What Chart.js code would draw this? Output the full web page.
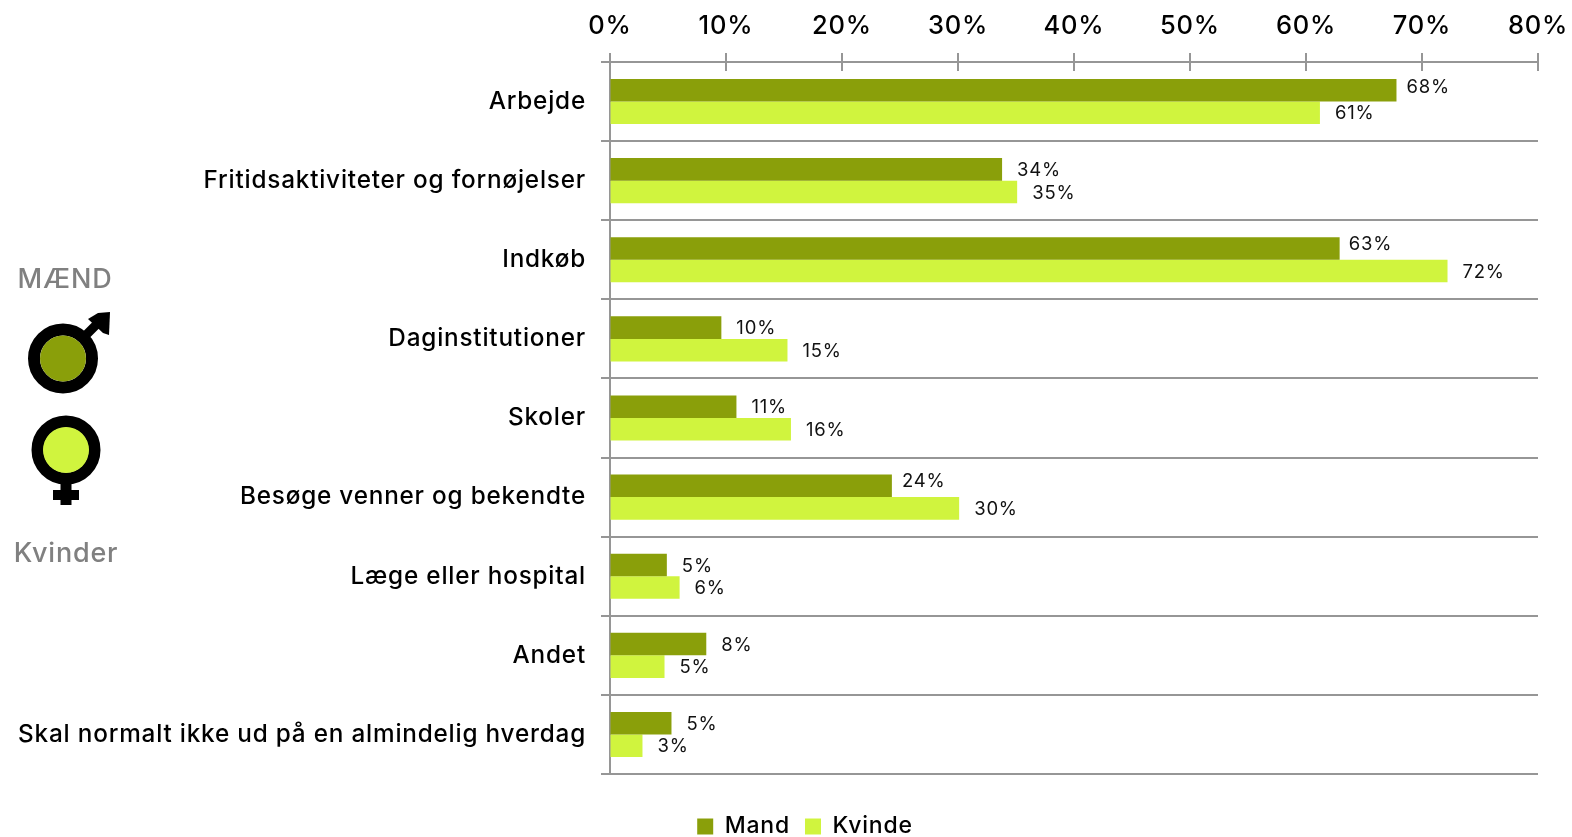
<!DOCTYPE html>
<html>
<head>
<meta charset="utf-8">
<script src="https://cdn.jsdelivr.net/npm/chart.js@4.4.1/dist/chart.umd.min.js"></script>
<style>
  html, body { margin: 0; padding: 0; background: #fff; overflow: hidden; }
  #wrap { position: relative; width: 1572px; height: 837px; }
  canvas { position: absolute; left: 0; top: 0; }
  .side { position: absolute; color: #808080; font: 500 27px Inter, sans-serif; letter-spacing: 0.8px; width: 130px; text-align: center; }
  svg { position: absolute; left: 0; top: 0; }
</style>
</head>
<body>
<div id="wrap">
  <canvas id="chart" width="1572" height="837"></canvas>
  <svg width="140" height="560">
    <g fill="none" stroke="#000" stroke-width="12">
      <circle cx="63" cy="358.5" r="29" />
      <circle cx="66" cy="450" r="28.5" />
      <line x1="85" y1="336" x2="100" y2="321" stroke-width="9" />
      <line x1="66" y1="478" x2="66" y2="505" stroke-width="11" />
      <line x1="53" y1="495" x2="79" y2="495" stroke-width="10" />
    </g>
    <polygon points="88,319 98,313 110,312 109,335 103,333 " fill="#000" />
    <circle cx="63" cy="358.5" r="23" fill="#8a9f0a" />
    <circle cx="66" cy="450" r="23" fill="#d0f43e" />
  </svg>
  <div class="side" style="left:0;top:262px">MÆND</div>
  <div class="side" style="left:1px;top:536px">Kvinder</div>
</div>
<script>
const categories = [
  "Arbejde",
  "Fritidsaktiviteter og fornøjelser",
  "Indkøb",
  "Daginstitutioner",
  "Skoler",
  "Besøge venner og bekendte",
  "Læge eller hospital",
  "Andet",
  "Skal normalt ikke ud på en almindelig hverdag"
];
const mand = [67.8, 33.8, 62.9, 9.6, 10.9, 24.3, 4.9, 8.3, 5.3];
const kvinde = [61.2, 35.1, 72.2, 15.3, 15.6, 30.1, 6.0, 4.7, 2.8];
const mandLabels = ["68%", "34%", "63%", "10%", "11%", "24%", "5%", "8%", "5%"];
const kvindeLabels = ["61%", "35%", "72%", "15%", "16%", "30%", "6%", "5%", "3%"];
const xTicks = [0, 10, 20, 30, 40, 50, 60, 70, 80];

const GRAY = "#969696";
const FONT = "Inter, sans-serif";

// tre af etiketterne sidder tættere på og lidt højere i originalen
const labelNudge = { "0:0": [-5, -4], "0:2": [-6, -5], "0:5": [-5, -5] };

const extras = {
  id: "extras",
  beforeDraw(chart) {
    chart.ctx.letterSpacing = "0.8px";
  },
  afterLayout(chart) {
    // flyt legend ind under plottet
    chart.legend.left += 32;
    chart.legend.right += 32;
    chart.legend.top += 26;
    chart.legend.bottom += 26;
  },
  afterDraw(chart) {
    const ctx = chart.ctx;
    const xs = chart.scales.x;
    const top = chart.chartArea.top;
    // tick-streger der krydser aksen
    ctx.save();
    ctx.strokeStyle = GRAY;
    ctx.lineWidth = 2;
    ctx.beginPath();
    xs.ticks.forEach((t) => {
      const px = xs.getPixelForValue(t.value);
      ctx.moveTo(px, top - 9);
      ctx.lineTo(px, top + 9);
    });
    ctx.stroke();
    // dataetiketter
    ctx.fillStyle = "#111";
    ctx.font = "18.5px " + FONT;
    ctx.textAlign = "left";
    ctx.textBaseline = "middle";
    [mandLabels, kvindeLabels].forEach((labels, ds) => {
      chart.getDatasetMeta(ds).data.forEach((bar, i) => {
        const n = labelNudge[ds + ":" + i] || [0, 0];
        ctx.fillText(labels[i], bar.x + 15 + n[0], bar.y + 1 + n[1]);
      });
    });
    ctx.restore();
  }
};

new Chart(document.getElementById("chart").getContext("2d"), {
  type: "bar",
  data: {
    labels: categories,
    datasets: [
      { label: "Mand", data: mand, backgroundColor: "#8a9f0a", borderWidth: 0 },
      { label: "Kvinde", data: kvinde, backgroundColor: "#d0f43e", borderWidth: 0 }
    ]
  },
  plugins: [extras],
  options: {
    indexAxis: "y",
    responsive: false,
    animation: false,
    devicePixelRatio: 1,
    layout: { padding: { left: 0, right: 34, top: 0, bottom: 15 } },
    datasets: { bar: { categoryPercentage: 0.57, barPercentage: 1 } },
    scales: {
      x: {
        position: "top",
        min: 0,
        max: 80,
        afterFit(s) { s.height = 62; s.paddingRight = 0; s.paddingLeft = 0; },
        afterBuildTicks(s) { s.ticks = xTicks.map((v) => ({ value: v })); },
        grid: { drawOnChartArea: false, drawTicks: false },
        border: { display: true, color: GRAY, width: 2 },
        ticks: {
          color: "#000",
          font: { family: FONT, size: 25.5, weight: "500" },
          padding: 20,
          maxRotation: 0,
          callback: (v) => v + "%"
        }
      },
      y: {
        afterFit(s) { s.width = 610; s.paddingTop = 0; s.paddingBottom = 0; },
        grid: { color: GRAY, lineWidth: 2, tickLength: 9, tickColor: GRAY },
        border: { display: true, color: GRAY, width: 2 },
        ticks: {
          color: "#000",
          font: { family: FONT, size: 24.3, weight: "500" },
          padding: 15,
          autoSkip: false
        }
      }
    },
    plugins: {
      tooltip: { enabled: false },
      legend: {
        position: "bottom",
        labels: {
          color: "#000",
          font: { family: FONT, size: 23, weight: "500" },
          boxWidth: 16,
          boxHeight: 16,
          padding: 15
        }
      }
    }
  }
});
</script>
</body>
</html>
